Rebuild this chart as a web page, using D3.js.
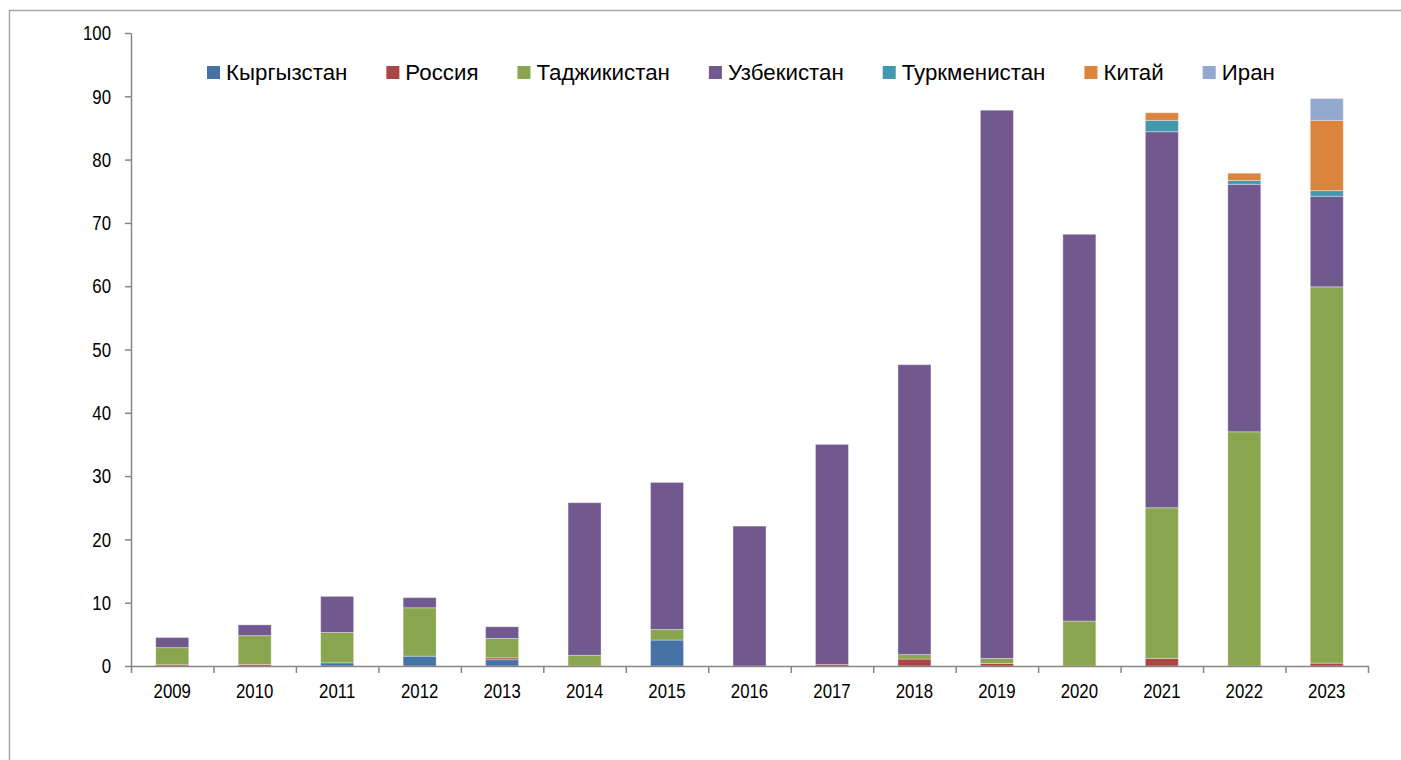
<!DOCTYPE html>
<html>
<head>
<meta charset="utf-8">
<script src="https://cdn.jsdelivr.net/npm/d3@7"></script>
<style>
  body { margin: 0; background: #fff; }
  svg { display: block; font-family: "Liberation Sans", Arial, sans-serif; }
</style>
</head>
<body>
<svg id="chart" width="1401" height="760"></svg>
<script>
var years = ['2009','2010','2011','2012','2013','2014','2015','2016','2017','2018','2019','2020','2021','2022','2023'];
var kyrgyzstan   = [0, 0, 0.5, 1.55, 1.0, 0, 4.1, 0, 0, 0, 0, 0, 0, 0, 0];
var russia       = [0.2, 0.25, 0, 0, 0.3, 0, 0, 0, 0.25, 1.1, 0.4, 0, 1.2, 0, 0.45];
var tajikistan   = [2.7, 4.55, 4.8, 7.65, 3.05, 1.7, 1.67, 0, 0, 0.7, 0.8, 7.1, 23.8, 37.0, 59.45];
var uzbekistan   = [1.6, 1.7, 5.7, 1.6, 1.85, 24.1, 23.23, 22.1, 34.75, 45.8, 86.6, 61.1, 59.4, 39.1, 14.3];
var turkmenistan = [0, 0, 0, 0, 0, 0, 0, 0, 0, 0, 0, 0, 1.8, 0.6, 0.9];
var china        = [0, 0, 0, 0, 0, 0, 0, 0, 0, 0, 0, 0, 1.2, 1.15, 11.1];
var iran         = [0, 0, 0, 0, 0, 0, 0, 0, 0, 0, 0, 0, 0, 0, 3.45];
var seriesNames = ['Кыргызстан','Россия','Таджикистан','Узбекистан','Туркменистан','Китай','Иран'];
var yTicks = [0,10,20,30,40,50,60,70,80,90,100];

var colors = ['#4572A7','#AA4643','#89A54E','#71588F','#4198AF','#DB843D','#93A9CF'];
var seriesValues = [kyrgyzstan, russia, tajikistan, uzbekistan, turkmenistan, china, iran];

// table for d3.stack
var rows = years.map(function(y, i) {
  var r = { year: y };
  seriesNames.forEach(function(n, j) { r[n] = seriesValues[j][i]; });
  return r;
});

var svg = d3.select('#chart');
var sx = 0.8; // axis text in the picture is horizontally squeezed

// outer frame
svg.append('rect')
  .attr('x', 9.5).attr('y', 10.5)
  .attr('width', 1420).attr('height', 800)
  .attr('fill', 'none').attr('stroke', '#a6a6a6').attr('stroke-width', 1.5);

var x = d3.scaleBand().domain(years).range([131, 1368]).paddingInner(0.6).paddingOuter(0.3);
var y = d3.scaleLinear().domain([0, 100]).range([666, 33]);

var stacked = d3.stack().keys(seriesNames)(rows);

svg.append('g').selectAll('g')
  .data(stacked)
  .join('g')
    .attr('fill', function(d, i) { return colors[i]; })
  .selectAll('rect')
  .data(function(d) { return d.filter(function(p) { return p[1] - p[0] > 0; }); })
  .join('rect')
    .attr('x', function(d) { return x(d.data.year); })
    .attr('width', x.bandwidth())
    .attr('y', function(d) { return y(d[1]); })
    .attr('height', function(d) { return y(d[0]) - y(d[1]); })
    .attr('stroke', '#ffffff').attr('stroke-opacity', 0.35).attr('stroke-width', 1);

// y axis
var gy = svg.append('g').attr('transform', 'translate(131,0)')
  .call(d3.axisLeft(y).tickValues(yTicks).tickSize(6).tickPadding(14).tickSizeOuter(0));
gy.selectAll('text')
  .attr('x', null)
  .attr('transform', 'translate(-20,0) scale(' + sx + ',1)')
  .attr('font-size', 21).attr('fill', '#000');

// x axis: ticks sit on the category boundaries
var xb = d3.scaleLinear().domain([0, years.length]).range([131, 1368]);
svg.append('g').attr('transform', 'translate(0,666)')
  .call(d3.axisBottom(xb).tickValues(d3.range(years.length + 1)).tickFormat('').tickSize(7).tickSizeOuter(0));

// x labels
var gx = svg.append('g').attr('transform', 'translate(0,666)')
  .call(d3.axisBottom(x).tickSize(0).tickPadding(17));
gx.select('.domain').remove();
gx.selectAll('text')
  .attr('font-size', 21).attr('fill', '#000')
  .attr('transform', 'scale(' + sx + ',1)');

svg.selectAll('.domain, .tick line').attr('stroke', '#868686').attr('stroke-width', 1.5);
svg.selectAll('.tick text').attr('font-family', '"Liberation Sans", Arial, sans-serif');

// legend
var ls = 0.97;
var legend = svg.append('g').attr('transform', 'translate(207,0)');
var lx = 0;
seriesNames.forEach(function(n, i) {
  var g = legend.append('g').attr('transform', 'translate(' + lx + ',0)');
  g.append('rect').attr('x', 0).attr('y', 66).attr('width', 13).attr('height', 13).attr('fill', colors[i]);
  var t = g.append('text')
    .attr('transform', 'translate(19,80) scale(' + ls + ',1)')
    .attr('font-size', 23).attr('fill', '#000')
    .text(n);
  var w = t.node().getComputedTextLength() * ls;
  lx += 19 + w + 39;
});
</script>
</body>
</html>
